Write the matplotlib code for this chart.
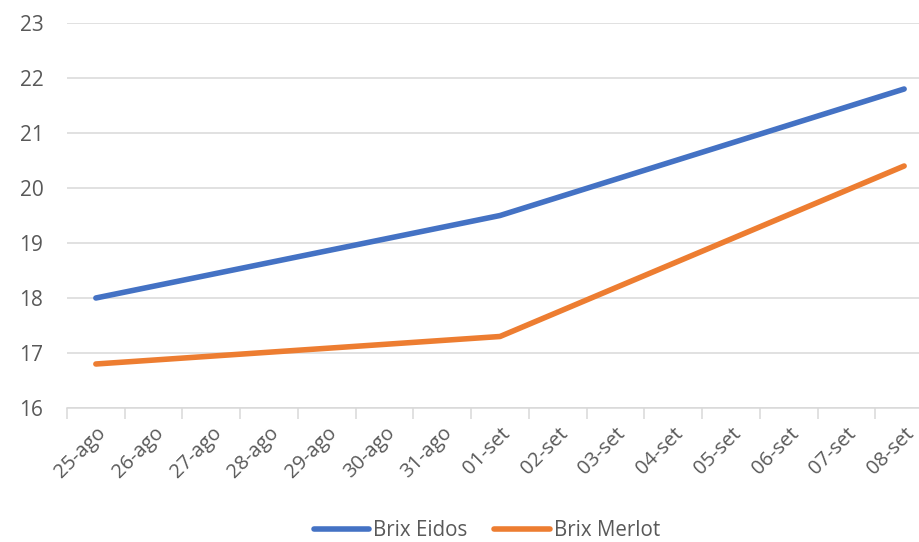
import matplotlib.pyplot as plt

plt.rcParams['font.family'] = ['Open Sans', 'DejaVu Sans']

days = ['25-ago', '26-ago', '27-ago', '28-ago', '29-ago', '30-ago', '31-ago',
        '01-set', '02-set', '03-set', '04-set', '05-set', '06-set', '07-set',
        '08-set']
sample_days = ['25-ago', '01-set', '08-set']
brix_eidos = [18.0, 19.5, 21.8]
brix_merlot = [16.8, 17.3, 20.4]

grey = '#595959'
grid = '#D9D9D9'

fig = plt.figure(figsize=(9.19, 5.42), dpi=100)
ax = fig.add_axes([67 / 919, 1 - 408 / 542, 866 / 919, 385 / 542])

xs = [days.index(d) for d in sample_days]
ax.plot(xs, brix_eidos, color='#4472C4', lw=4, solid_capstyle='round',
        label='Brix Eidos', clip_on=False)
ax.plot(xs, brix_merlot, color='#ED7D31', lw=4, solid_capstyle='round',
        label='Brix Merlot', clip_on=False)

ax.set_xlim(-0.5, len(days) - 0.5)
ax.set_ylim(16, 23)
ax.set_yticks(range(16, 24))
ax.grid(axis='y', color=grid, lw=1.1)
ax.set_axisbelow(True)

ax.set_xticks(range(len(days)))
ax.set_xticklabels(days, rotation=45, ha='right', va='top',
                   rotation_mode='anchor', color=grey, fontsize=14.5)
ax.set_xticks([i - 0.5 for i in range(len(days) + 1)], minor=True)
ax.tick_params(axis='x', which='major', length=0, pad=11)
ax.tick_params(axis='x', which='minor', length=8, color=grid, width=1.1)
ax.tick_params(axis='y', length=0, pad=17, labelcolor=grey, labelsize=15)

for s in ['top', 'right', 'left']:
    ax.spines[s].set_visible(False)
ax.spines['bottom'].set_color(grid)
ax.spines['bottom'].set_linewidth(1.1)

fig.legend(loc='center', bbox_to_anchor=(487 / 919, 1 - 531 / 542), ncol=2,
           frameon=False, fontsize=14.8, labelcolor=grey, handlelength=2.7,
           handletextpad=0.2, columnspacing=1.3)

fig.savefig('out.png', dpi=100)
